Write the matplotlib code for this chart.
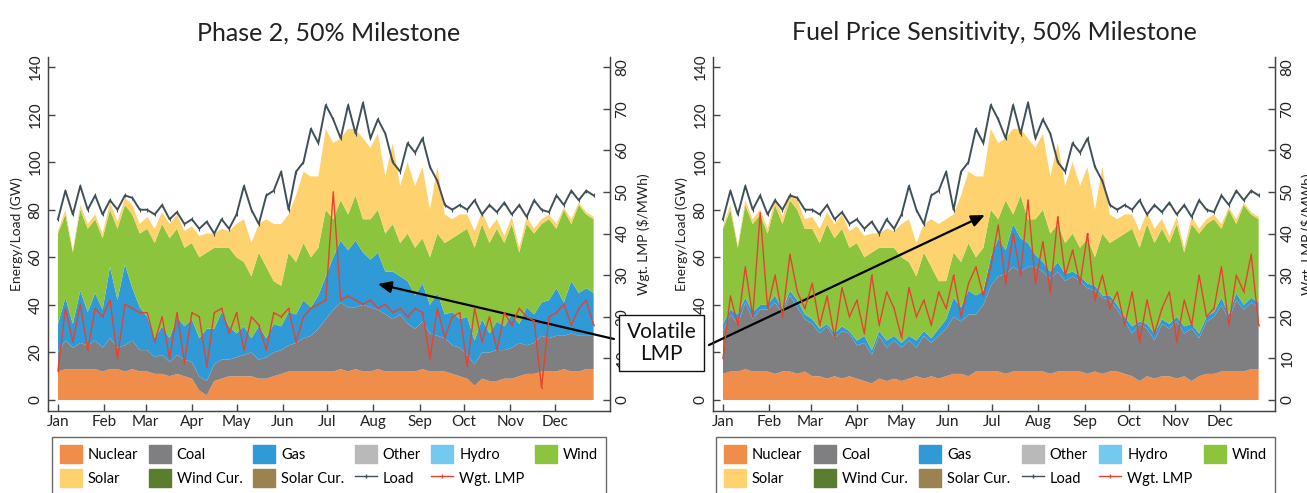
import numpy as np
import matplotlib
matplotlib.use("Agg")
import matplotlib.pyplot as plt
from matplotlib.patches import Patch
from matplotlib.lines import Line2D

plt.rcParams['font.family'] = ['Lato', 'DejaVu Sans']

# ---------------- data (5-day samples, day-of-year) ----------------
days = list(range(0, 365, 5))  # 73 samples

month_ticks = [0, 31, 59, 90, 120, 151, 181, 212, 243, 273, 304, 334]
month_labels = ["Jan", "Feb", "Mar", "Apr", "May", "Jun",
                "Jul", "Aug", "Sep", "Oct", "Nov", "Dec"]

load = [76, 88, 78, 90, 80, 86,  78, 84, 80, 86, 85, 80,
        80, 78, 82, 76, 79, 74,  76, 72, 75, 70, 76, 72,
        78, 90, 80, 74, 86, 88,  96, 80, 96, 100, 114, 108,
        124, 118, 110, 124, 112, 125,  110, 118, 112, 100, 96, 108,
        104, 110, 98, 92, 82, 80,  82, 80, 84, 78, 82, 79,
        83, 78, 82, 77, 84, 80,  79, 86, 82, 88, 84, 88,  86]

solar = [1, 2, 1, 2, 2, 2,  2, 3, 3, 3, 4, 4,
         5, 6, 5, 6, 6, 7,  7, 9, 8, 6, 8, 7,
         14, 18, 14, 12, 20, 24,  26, 16, 28, 30, 34, 30,
         34, 32, 26, 36, 28, 34,  30, 32, 24, 34, 24, 30,
         26, 30, 20, 28, 12, 8,  8, 6, 7, 5, 6, 4,
         3, 3, 2, 3, 2, 2,  2, 2, 1, 2, 1, 1,  1]

# Phase 2, 50% Milestone
nuclear_p2 = [12, 13, 13, 13, 13, 13,  12, 13, 13, 12, 13, 12,
              12, 11, 11, 10, 11, 10,  9, 4, 2, 8, 9, 10,
              10, 10, 10, 9, 9, 10,  11, 12, 12, 12, 12, 12,
              12, 12, 13, 12, 13, 12,  12, 13, 12, 12, 12, 12,
              12, 13, 12, 12, 12, 11,  10, 9, 6, 9, 8, 8,
              9, 9, 10, 11, 11, 12,  12, 12, 13, 12, 12, 13,  13]
coal_p2 = [8, 12, 9, 11, 10, 12,  10, 13, 9, 11, 12, 9,
           9, 7, 8, 6, 8, 7,  7, 6, 6, 7, 8, 7,
           8, 9, 10, 8, 9, 10,  10, 11, 12, 14, 15, 18,
           22, 26, 28, 27, 26, 28,  27, 25, 24, 22, 24, 20,
           18, 20, 16, 15, 14, 12,  12, 10, 9, 11, 12, 13,
           12, 13, 14, 12, 13, 15,  14, 15, 14, 16, 15, 14,  14]
gas_p2 = [12, 18, 10, 22, 14, 20,  16, 30, 20, 34, 22, 18,
          14, 8, 12, 10, 16, 14,  18, 16, 22, 15, 20, 14,
          10, 12, 6, 14, 8, 12,  10, 14, 12, 16, 12, 14,
          18, 22, 26, 24, 28, 22,  20, 24, 18, 20, 16, 18,
          14, 16, 12, 18, 10, 14,  12, 16, 10, 14, 8, 12,
          10, 14, 8, 16, 12, 14,  16, 20, 14, 22, 18, 20,  18]
wind_p2 = [38, 35, 30, 34, 35, 31,  30, 24, 30, 25, 31, 31,
           37, 40, 43, 42, 37, 33,  32, 34, 32, 34, 27, 33,
           32, 27, 26, 31, 30, 18,  17, 25, 22, 24, 21, 20,
           28, 16, 17, 15, 19, 14,  17, 18, 16, 20, 14, 20,
           20, 19, 20, 25, 30, 31,  36, 37, 39, 40, 38, 39,
           35, 38, 30, 35, 34, 33,  34, 25, 39, 24, 37, 31,  31]
lmp_p2 = [7, 22, 14, 23, 12, 22,  20, 24, 10, 23, 22, 21,
          21, 14, 20, 10, 21, 9,  21, 20, 8, 21, 22, 16,
          21, 12, 20, 18, 12, 21,  20, 22, 14, 20, 22, 23,
          24, 50, 24, 25, 24, 23,  24, 22, 23, 21, 22, 20,
          22, 21, 10, 22, 15, 20,  21, 8, 22, 14, 20, 12,
          21, 18, 22, 20, 19, 3,  20, 21, 23, 18, 22, 24,  18]

# Fuel Price Sensitivity, 50% Milestone
nuclear_fp = [11, 12, 12, 13, 12, 12,  12, 11, 12, 12, 11, 12,
              10, 10, 9, 10, 9, 10,  9, 8, 7, 9, 8, 9,
              8, 9, 10, 9, 10, 9,  10, 11, 11, 10, 12, 12,
              12, 12, 11, 12, 12, 12,  12, 12, 11, 12, 12, 12,
              12, 11, 12, 11, 12, 12,  11, 10, 8, 10, 9, 10,
              10, 9, 10, 8, 10, 11,  11, 12, 12, 12, 12, 13,  13]
coal_fp = [18, 24, 20, 28, 22, 26,  26, 30, 24, 32, 28, 22,
           22, 18, 22, 16, 20, 18,  14, 16, 12, 18, 14, 16,
           14, 16, 12, 18, 14, 18,  20, 24, 22, 26, 24, 28,
           36, 40, 42, 44, 42, 44,  44, 42, 40, 42, 38, 40,
           38, 36, 34, 32, 30, 26,  22, 18, 24, 20, 16, 22,
           20, 24, 18, 22, 16, 22,  24, 28, 22, 30, 26, 28,  26]
gas_fp = [3, 2, 4, 2, 3, 2,  2, 3, 2, 2, 3, 2,
          2, 2, 1, 2, 2, 1,  2, 3, 2, 2, 3, 2,
          2, 2, 3, 2, 2, 3,  4, 8, 6, 10, 8, 6,
          12, 16, 10, 18, 14, 10,  5, 4, 3, 4, 3, 2,
          2, 2, 2, 1, 2, 2,  2, 3, 1, 2, 3, 2,
          2, 2, 3, 2, 2, 2,  2, 3, 2, 3, 2, 2,  2]
wind_fp = [40, 42, 28, 39, 37, 38,  30, 38, 36, 38, 38, 36,
           38, 36, 42, 40, 41, 35,  41, 33, 41, 35, 39, 37,
           36, 31, 27, 33, 30, 20,  16, 19, 19, 20, 16, 18,
           20, 8, 21, 4, 18, 10,  15, 22, 16, 16, 13, 16,
           12, 19, 12, 26, 22, 28,  35, 41, 31, 42, 38, 38,
           34, 39, 31, 42, 42, 39,  39, 29, 44, 29, 42, 35,  35]
lmp_fp = [10, 25, 18, 32, 20, 45,  22, 30, 20, 35, 26, 22,
          28, 18, 25, 15, 27, 20,  24, 16, 30, 18, 26, 22,
          15, 27, 20, 24, 18, 26,  22, 30, 20, 28, 32, 25,
          32, 42, 28, 40, 30, 48,  28, 38, 26, 44, 30, 36,
          28, 40, 24, 30, 22, 26,  18, 26, 14, 24, 16, 22,
          26, 14, 24, 18, 30, 20,  22, 32, 18, 30, 26, 35,  18]

titles = ["Phase 2, 50% Milestone", "Fuel Price Sensitivity, 50% Milestone"]

# ---------------- styling ----------------
C = dict(nuclear="#f08d4b", coal="#7f7f82", gas="#2f9ad6", other="#b9b9b9",
         hydro="#74c9ef", wind="#8dc43e", solar="#fdd26f", windcur="#5b7d2f",
         solarcur="#9a8350", load="#3f5058", lmp="#e5432e")
SPINE = "#444444"

W, H = 1307, 493
fig = plt.figure(figsize=(W / 100, H / 100), dpi=100)

def fx(px):
    return px / W

def fy(py):
    return 1 - py / H

panels = [
    (48, 610, nuclear_p2, coal_p2, gas_p2, wind_p2, lmp_p2),
    (713, 1275, nuclear_fp, coal_fp, gas_fp, wind_fp, lmp_fp),
]
ymin, ymax = -4.6, 144.2
xmin, xmax = -6.7, 371
axes = []
for i, (l, r, nuc, coal, gas, wind, lmp) in enumerate(panels):
    ax = fig.add_axes([fx(l), fy(411), fx(r - l), (411 - 57) / H])
    ax.stackplot(days, nuc, coal, gas, wind, solar,
                 colors=[C["nuclear"], C["coal"], C["gas"], C["wind"], C["solar"]],
                 linewidth=0)
    ax.plot(days, load, color=C["load"], lw=1.4, marker="|", ms=3, mew=0.8, zorder=5)
    ax.set_xlim(xmin, xmax)
    ax.set_ylim(ymin, ymax)
    ax.set_yticks(range(0, 141, 20))
    ax.set_xticks(month_ticks)
    ax.set_xticklabels(month_labels)
    ax.tick_params(axis="both", direction="in", length=5, width=1, colors=SPINE,
                   labelcolor="#222222", labelsize=11)
    ax.tick_params(axis="x", pad=3)
    ax.tick_params(axis="y", pad=4)
    for lab in ax.get_yticklabels():
        lab.set_rotation(90)
        lab.set_va("center")
    ax.set_ylabel("Energy/Load (GW)", fontsize=10, color="#222222", labelpad=4)
    ax.spines["top"].set_visible(False)
    for s in ["left", "bottom", "right"]:
        ax.spines[s].set_color(SPINE)
        ax.spines[s].set_linewidth(1)
    ax.set_title(titles[i], fontsize=18, color="#222222", pad=12)

    ax2 = ax.twinx()
    ax2.plot(days, lmp, color=C["lmp"], lw=1.0, marker="|", ms=2, mew=0.6)
    ax2.set_ylim(ymin / 1.75, ymax / 1.75)
    ax2.set_yticks(range(0, 81, 10))
    ax2.tick_params(axis="y", direction="in", length=5, width=1, colors=SPINE,
                    labelcolor="#222222", labelsize=11, pad=4)
    for lab in ax2.get_yticklabels():
        lab.set_rotation(90)
        lab.set_va("center")
    ax2.set_ylabel(r"Wgt. LMP (\$/MWh)", fontsize=10, color="#222222", labelpad=5)
    ax2.spines["top"].set_visible(False)
    for s in ["left", "bottom", "right"]:
        ax2.spines[s].set_color(SPINE)
    axes.append(ax)

    handles = [
        Patch(color=C["nuclear"], label="Nuclear"),
        Patch(color=C["solar"], label="Solar"),
        Patch(color=C["coal"], label="Coal"),
        Patch(color=C["windcur"], label="Wind Cur."),
        Patch(color=C["gas"], label="Gas"),
        Patch(color=C["solarcur"], label="Solar Cur."),
        Patch(color=C["other"], label="Other"),
        Line2D([], [], color=C["load"], lw=1, marker="|", ms=3, label="Load"),
        Patch(color=C["hydro"], label="Hydro"),
        Line2D([], [], color=C["lmp"], lw=1, marker="|", ms=3, label="Wgt. LMP"),
        Patch(color=C["wind"], label="Wind"),
    ]
    lx0 = 52 if i == 0 else 716
    lx1 = 606 if i == 0 else 1275
    leg = fig.legend(handles=handles, loc="upper left", ncol=6,
                     bbox_to_anchor=(fx(lx0), fy(437), fx(lx1 - lx0), 0),
                     mode="expand", fontsize=10.5, frameon=True, fancybox=False,
                     edgecolor=SPINE, handlelength=1.5, handleheight=1.5,
                     handletextpad=0.4, labelspacing=0.45, borderpad=0.55,
                     borderaxespad=0)
    leg.get_frame().set_linewidth(1)

# annotation box + arrows
fig.text(fx(661.5), fy(343), "Volatile\nLMP", ha="center", va="center", fontsize=15,
         color="#111111", linespacing=1.1, zorder=20,
         bbox=dict(boxstyle="square,pad=0.35", fc="white", ec="#111111", lw=1))
axes[0].annotate("", xy=(215, 48.8), xycoords="data",
                 xytext=(fx(614), fy(339)), textcoords="figure fraction",
                 arrowprops=dict(arrowstyle="-|>,head_length=0.8,head_width=0.35",
                                 color="black", lw=1.6, shrinkA=0, shrinkB=0),
                 zorder=15)
axes[1].annotate("", xy=(176, 77.8), xycoords="data",
                 xytext=(fx(709), fy(345)), textcoords="figure fraction",
                 arrowprops=dict(arrowstyle="-|>,head_length=0.8,head_width=0.35",
                                 color="black", lw=1.6, shrinkA=0, shrinkB=0),
                 zorder=15)

fig.savefig("out.png", dpi=100)
